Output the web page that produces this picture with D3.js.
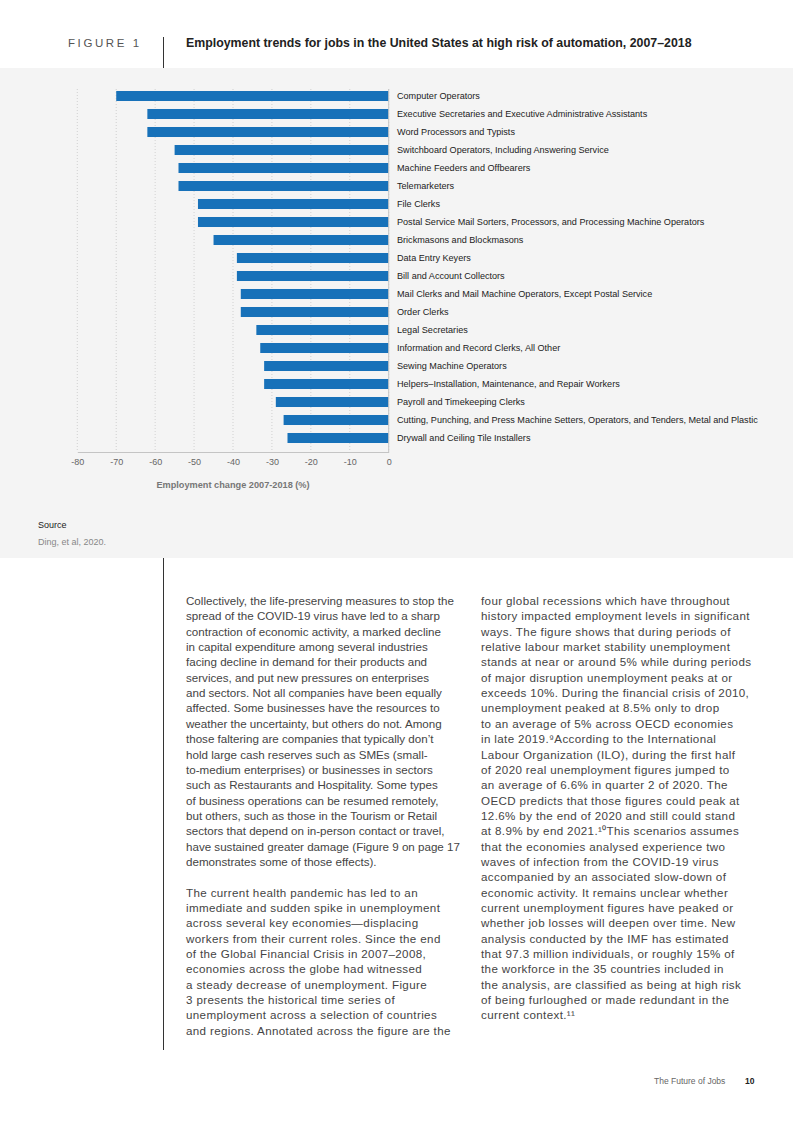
<!DOCTYPE html>
<html>
<head>
<meta charset="utf-8">
<script src="https://cdn.jsdelivr.net/npm/d3@7"></script>
<style>
  body { margin: 0; background: #fff; }
  svg { display: block; font-family: "Liberation Sans", Arial, sans-serif; }
</style>
</head>
<body>
<svg id="page" width="793" height="1122"></svg>
<script>
// chart data
const categories = [
  "Computer Operators",
  "Executive Secretaries and Executive Administrative Assistants",
  "Word Processors and Typists",
  "Switchboard Operators, Including Answering Service",
  "Machine Feeders and Offbearers",
  "Telemarketers",
  "File Clerks",
  "Postal Service Mail Sorters, Processors, and Processing Machine Operators",
  "Brickmasons and Blockmasons",
  "Data Entry Keyers",
  "Bill and Account Collectors",
  "Mail Clerks and Mail Machine Operators, Except Postal Service",
  "Order Clerks",
  "Legal Secretaries",
  "Information and Record Clerks, All Other",
  "Sewing Machine Operators",
  "Helpers\u2013Installation, Maintenance, and Repair Workers",
  "Payroll and Timekeeping Clerks",
  "Cutting, Punching, and Press Machine Setters, Operators, and Tenders, Metal and Plastic",
  "Drywall and Ceiling Tile Installers"
];
const changes = [-70, -62, -62, -55, -54, -54, -49, -49, -45, -39,
                 -39, -38, -38, -34, -33, -32, -32, -29, -27, -26];
const xTicks = [-80, -70, -60, -50, -40, -30, -20, -10, 0];

const leftCol = [
  ["Collectively, the life-preserving measures to stop the",
   "spread of the COVID-19 virus have led to a sharp",
   "contraction of economic activity, a marked decline",
   "in capital expenditure among several industries",
   "facing decline in demand for their products and",
   "services, and put new pressures on enterprises",
   "and sectors. Not all companies have been equally",
   "affected. Some businesses have the resources to",
   "weather the uncertainty, but others do not. Among",
   "those faltering are companies that typically don\u2019t",
   "hold large cash reserves such as SMEs (small-",
   "to-medium enterprises) or businesses in sectors",
   "such as Restaurants and Hospitality. Some types",
   "of business operations can be resumed remotely,",
   "but others, such as those in the Tourism or Retail",
   "sectors that depend on in-person contact or travel,",
   "have sustained greater damage (Figure 9 on page 17",
   "demonstrates some of those effects)."],
  ["The current health pandemic has led to an",
   "immediate and sudden spike in unemployment",
   "across several key economies\u2014displacing",
   "workers from their current roles. Since the end",
   "of the Global Financial Crisis in 2007\u20132008,",
   "economies across the globe had witnessed",
   "a steady decrease of unemployment. Figure",
   "3 presents the historical time series of",
   "unemployment across a selection of countries",
   "and regions. Annotated across the figure are the"]
];
const rightCol = [
  "four global recessions which have throughout",
  "history impacted employment levels in significant",
  "ways. The figure shows that during periods of",
  "relative labour market stability unemployment",
  "stands at near or around 5% while during periods",
  "of major disruption unemployment peaks at or",
  "exceeds 10%. During the financial crisis of 2010,",
  "unemployment peaked at 8.5% only to drop",
  "to an average of 5% across OECD economies",
  "in late 2019.\u2079According to the International",
  "Labour Organization (ILO), during the first half",
  "of 2020 real unemployment figures jumped to",
  "an average of 6.6% in quarter 2 of 2020. The",
  "OECD predicts that those figures could peak at",
  "12.6% by the end of 2020 and still could stand",
  "at 8.9% by end 2021.\u00b9\u2070This scenarios assumes",
  "that the economies analysed experience two",
  "waves of infection from the COVID-19 virus",
  "accompanied by an associated slow-down of",
  "economic activity. It remains unclear whether",
  "current unemployment figures have peaked or",
  "whether job losses will deepen over time. New",
  "analysis conducted by the IMF has estimated",
  "that 97.3 million individuals, or roughly 15% of",
  "the workforce in the 35 countries included in",
  "the analysis, are classified as being at high risk",
  "of being furloughed or made redundant in the",
  "current context.\u00b9\u00b9"
];

const svg = d3.select("#page");

// grey panel behind the figure
svg.append("rect").attr("x", 0).attr("y", 68).attr("width", 793).attr("height", 490).attr("fill", "#f4f4f4");

// header
svg.append("text").attr("x", 68).attr("y", 47).text("FIGURE 1")
  .style("font-size", "11.5px").style("letter-spacing", "2.6px").attr("fill", "#555");
svg.append("line").attr("x1", 163.5).attr("x2", 163.5).attr("y1", 37).attr("y2", 68)
  .attr("stroke", "#333").attr("stroke-width", 1);
svg.append("text").attr("x", 186).attr("y", 47).text("Employment trends for jobs in the United States at high risk of automation, 2007\u20132018")
  .style("font-size", "12.35px").style("font-weight", "bold").attr("fill", "#222");

// chart
const x = d3.scaleLinear().domain([-80, 0]).range([77.3, 388.7]);
const y = d3.scaleBand().domain(categories).range([87, 447]).paddingInner(0.444).paddingOuter(0.222);

const g = svg.append("g");

g.selectAll(".grid").data(xTicks).enter().append("line")
  .attr("class", "grid")
  .attr("x1", d => x(d)).attr("x2", d => x(d))
  .attr("y1", 89).attr("y2", 452)
  .attr("stroke", "#c8c8c8").attr("stroke-width", 0.8).attr("stroke-dasharray", "1,2");

g.selectAll(".bar").data(changes).enter().append("rect")
  .attr("class", "bar")
  .attr("x", d => x(d))
  .attr("y", (d, i) => y(categories[i]))
  .attr("width", d => x(0) - x(d))
  .attr("height", y.bandwidth())
  .attr("fill", "#1771b9");

// zero line and bottom axis
g.append("line").attr("x1", x(0)).attr("x2", x(0)).attr("y1", 89).attr("y2", 452)
  .attr("stroke", "#c4c4c4").attr("stroke-width", 1);

const xAxis = g.append("g").attr("transform", "translate(0,452)")
  .call(d3.axisBottom(x).tickValues(xTicks).tickSize(0).tickPadding(7).tickFormat(d => String(d)));
xAxis.select(".domain").attr("stroke", "#c4c4c4").attr("stroke-width", 1.2);
xAxis.selectAll("text").style("font-size", "9px").attr("fill", "#666")
  .style("font-family", "'Liberation Sans', Arial, sans-serif");

g.append("text").attr("x", (x(-80) + x(0)) / 2).attr("y", 488).attr("text-anchor", "middle")
  .text("Employment change 2007-2018 (%)")
  .style("font-size", "9.2px").style("font-weight", "bold").attr("fill", "#777");

// category labels
g.selectAll(".lab").data(categories).enter().append("text")
  .attr("class", "lab")
  .attr("x", 397)
  .attr("y", d => y(d) + y.bandwidth() / 2)
  .attr("dy", "0.35em")
  .text(d => d)
  .style("font-size", "9.1px").attr("fill", "#222");

// source
svg.append("text").attr("x", 38).attr("y", 528).text("Source")
  .style("font-size", "9px").attr("fill", "#222");
svg.append("text").attr("x", 38).attr("y", 545).text("Ding, et al, 2020.")
  .style("font-size", "9px").attr("fill", "#888");

// body text
svg.append("line").attr("x1", 163.5).attr("x2", 163.5).attr("y1", 558).attr("y2", 1050)
  .attr("stroke", "#333").attr("stroke-width", 1);

const lh = 15.35;
function block(lines, x0, y0, track) {
  svg.append("g").selectAll("text").data(lines).enter().append("text")
    .attr("x", x0).attr("y", (d, i) => y0 + i * lh)
    .text(d => d)
    .style("font-size", "11.6px").style("letter-spacing", track + "px").attr("fill", "#444");
}
block(leftCol[0], 186, 605, 0);
block(leftCol[1], 186, 605 + (leftCol[0].length + 1) * lh, 0.36);
block(rightCol, 481, 605, 0.37);

// footer
svg.append("text").attr("x", 654).attr("y", 1084).text("The Future of Jobs")
  .style("font-size", "8.5px").attr("fill", "#666");
svg.append("text").attr("x", 745).attr("y", 1084).text("10")
  .style("font-size", "8.5px").style("font-weight", "bold").attr("fill", "#222");
</script>
</body>
</html>
